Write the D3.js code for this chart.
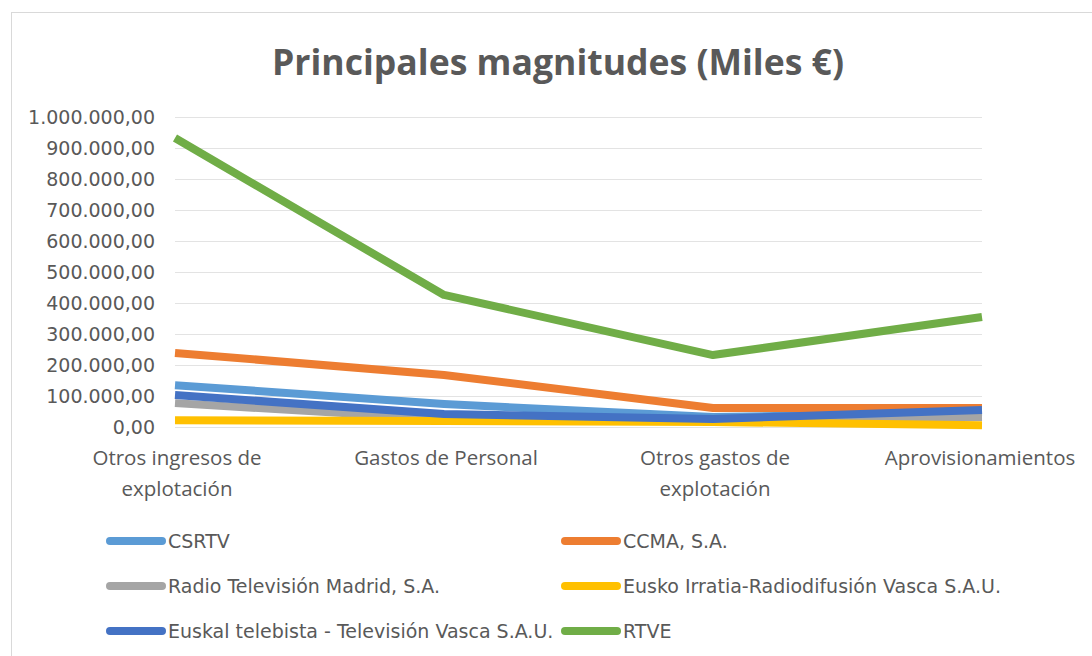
<!DOCTYPE html>
<html>
<head>
<meta charset="utf-8">
<script src="https://cdn.jsdelivr.net/npm/d3@7"></script>
<style>
  body { margin: 0; background: #fff; }
  text { fill: #595959; }
</style>
</head>
<body>
<div id="chart"></div>
<script>
var width = 1092,
    height = 656;

// categories and series (Miles €)
var categories = ['Otros ingresos de explotación', 'Gastos de Personal', 'Otros gastos de explotación', 'Aprovisionamientos'];
var catLines = [['Otros ingresos de', 'explotación'], ['Gastos de Personal'], ['Otros gastos de', 'explotación'], ['Aprovisionamientos']];
var seriesNames = ['CSRTV', 'CCMA, S.A.', 'Radio Televisión Madrid, S.A.', 'Eusko Irratia-Radiodifusión Vasca S.A.U.', 'Euskal telebista - Televisión Vasca S.A.U.', 'RTVE'];
var seriesColors = ['#5b9bd5', '#ed7d31', '#a5a5a5', '#ffc000', '#4472c4', '#70ad47'];
var csrtv = [135000, 74000, 32000, 48000];
var ccma = [239000, 168000, 61000, 61000];
var madrid = [77000, 26000, 20000, 32000];
var eusko = [22000, 19000, 16000, 6000];
var euskal = [103000, 42000, 26000, 55000];
var rtve = [932000, 426000, 232000, 355000];
var seriesValues = [csrtv, ccma, madrid, eusko, euskal, rtve];
var yTicks = d3.range(0, 1000001, 100000);

var svg = d3.select('#chart').append('svg')
    .attr('width', width)
    .attr('height', height);

// chart area border
svg.append('rect')
    .attr('x', 11.5)
    .attr('y', 12.5)
    .attr('width', 1100)
    .attr('height', 700)
    .style('fill', 'none')
    .style('stroke', '#d9d9d9');

svg.append('text')
    .attr('x', 558)
    .attr('y', 75)
    .attr('text-anchor', 'middle')
    .attr('textLength', 572)
    .attr('lengthAdjust', 'spacingAndGlyphs')
    .style('font-family', 'Open Sans')
    .style('font-weight', 'bold')
    .style('font-size', '36px')
    .text('Principales magnitudes (Miles €)');

var x = d3.scalePoint()
    .domain(categories)
    .range([175, 982]);

var y = d3.scaleLinear()
    .domain([0, 1000000])
    .range([427, 117]);

var fmt = d3.formatLocale({decimal: ',', thousands: '.', grouping: [3], currency: ['', '€']}).format(',.2f');

// gridlines
svg.append('g')
    .selectAll('line')
    .data(yTicks)
    .enter()
    .append('line')
    .attr('x1', 175)
    .attr('x2', 982)
    .attr('y1', function(d) { return Math.round(y(d)) + 0.5; })
    .attr('y2', function(d) { return Math.round(y(d)) + 0.5; })
    .style('stroke', '#e3e3e3')
    .style('stroke-width', 1);

// y axis labels
var yAxis = d3.axisLeft(y)
    .tickValues(yTicks)
    .tickFormat(fmt)
    .tickSize(0)
    .tickPadding(0);

var gy = svg.append('g')
    .attr('transform', 'translate(155,0)')
    .call(yAxis);
gy.select('.domain').remove();
gy.selectAll('text')
    .style('font-family', 'DejaVu Sans')
    .style('font-size', '19px')
    .style('fill', '#595959');

// category labels
var gx = svg.append('g')
    .selectAll('text')
    .data(categories)
    .enter()
    .append('text')
    .attr('text-anchor', 'middle')
    .attr('transform', function(d) { return 'translate(' + x(d) + ',465)'; })
    .style('font-family', 'Open Sans')
    .style('font-size', '20.5px');
gx.each(function(d, i) {
    var t = d3.select(this);
    catLines[i].forEach(function(l, j) {
        t.append('tspan')
            .attr('x', i == 3 ? -x(d) + 982 - 2 : 2)
            .attr('dy', j == 0 ? 0 : 31)
            .text(l);
    });
});

// lines
var line = d3.line()
    .x(function(d, i) { return x(categories[i]); })
    .y(function(d) { return y(d); });

svg.append('g')
    .selectAll('path')
    .data(seriesValues)
    .enter()
    .append('path')
    .attr('d', line)
    .style('fill', 'none')
    .style('stroke', function(d, i) { return seriesColors[i]; })
    .style('stroke-width', 8)
    .style('stroke-linejoin', 'round')
    .style('stroke-linecap', 'butt');

// legend
var legend = svg.append('g')
    .selectAll('g')
    .data(seriesNames)
    .enter()
    .append('g')
    .attr('transform', function(d, i) {
        return 'translate(' + (i % 2 == 0 ? 110 : 565) + ',' + (541 + Math.floor(i / 2) * 45) + ')';
    });

legend.append('line')
    .attr('x1', 0)
    .attr('x2', 52)
    .style('stroke', function(d, i) { return seriesColors[i]; })
    .style('stroke-width', 8)
    .style('stroke-linecap', 'round');

legend.append('text')
    .attr('x', 58)
    .attr('y', 7)
    .style('font-family', 'DejaVu Sans')
    .style('font-size', '19px')
    .text(function(d) { return d; });
</script>
</body>
</html>
